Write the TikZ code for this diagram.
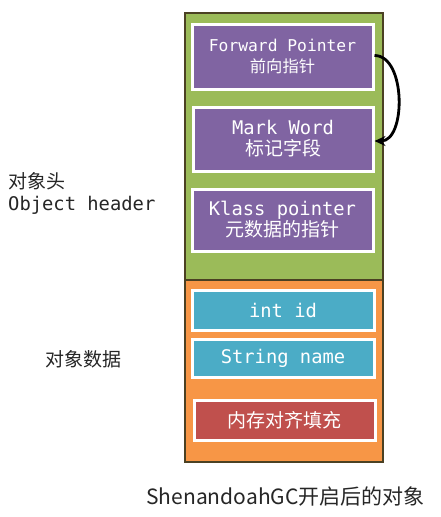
\documentclass[tikz,border=0pt]{standalone}
\usepackage{fontspec}
\setmonofont{DejaVu Sans Mono}
\newfontfamily\cjk{Noto Sans CJK SC}
\usetikzlibrary{shadows,arrows.meta}
\definecolor{hdrgreen}{RGB}{155,187,89}
\definecolor{dataorange}{RGB}{247,150,70}
\definecolor{fieldpurple}{RGB}{128,100,162}
\definecolor{fieldblue}{RGB}{75,172,198}
\definecolor{fieldred}{RGB}{192,80,77}
\definecolor{frameline}{RGB}{75,65,35}
\tikzset{
  frame/.style={draw=frameline, line width=1.6pt},
  field/.style={draw=white, line width=3pt, text=white, align=center,
    inner sep=0pt, font=\fontsize{16.3}{21}\selectfont,
    drop shadow={opacity=0.35, shadow xshift=1.3pt, shadow yshift=-1.3pt}},
  label/.style={anchor=west, align=left, inner sep=0pt, text=black!85,
    font=\fontsize{19}{23}\selectfont},
  mono/.style={font=\ttfamily\fontsize{18.8}{21}\selectfont}
}
\begin{document}
\begin{tikzpicture}[x=1pt,y=-1pt]
\useasboundingbox[fill=white] (0,0) rectangle (441,517);
\draw[frame, fill=hdrgreen] (185,13) rectangle (383,280);
\draw[frame, fill=dataorange] (185,280) rectangle (383,462);

\node[field, fill=fieldpurple, minimum width=181pt, minimum height=65pt] (fp) at (282.5,56.5)
  {\ttfamily Forward Pointer\\{\cjk\fontsize{16.3}{21}\selectfont 前向指针}};
\node[field, fill=fieldpurple, minimum width=180pt, minimum height=64pt, mono] (mw) at (283,139)
  {Mark Word\\{\cjk\fontsize{19}{21}\selectfont 标记字段}};
\node[field, fill=fieldpurple, minimum width=181pt, minimum height=62pt, mono] (kp) at (282.5,220)
  {Klass pointer\\{\cjk\fontsize{19}{21}\selectfont 元数据的指针}};
\node[field, fill=fieldblue, minimum width=182pt, minimum height=40pt, mono] (id) at (283,310)
  {int id};
\node[field, fill=fieldblue, minimum width=182pt, minimum height=38pt, mono] (nm) at (283,358)
  {String name};
\node[field, fill=fieldred, minimum width=181pt, minimum height=40pt] (pad) at (284.5,420)
  {\cjk\fontsize{19}{21}\selectfont 内存对齐填充};

\draw[line width=2.8pt, -{Stealth[length=11pt,width=10pt]}]
  ([yshift=1pt]fp.east) to[out=0, in=0, looseness=0.95] ([yshift=-2pt]mw.east);

\node[label] (hdr) at (8,193) {{\cjk 对象头}\\[-1pt]\ttfamily\fontsize{18.8}{22}\selectfont Object header};
\node[label] (dat) at (45,359) {\cjk 对象数据};
\node[anchor=center, inner sep=0pt, text=black!85, font=\cjk\fontsize{21}{25}\selectfont] (cap) at (285.5,496.5) {ShenandoahGC开启后的对象};
\end{tikzpicture}
\end{document}
